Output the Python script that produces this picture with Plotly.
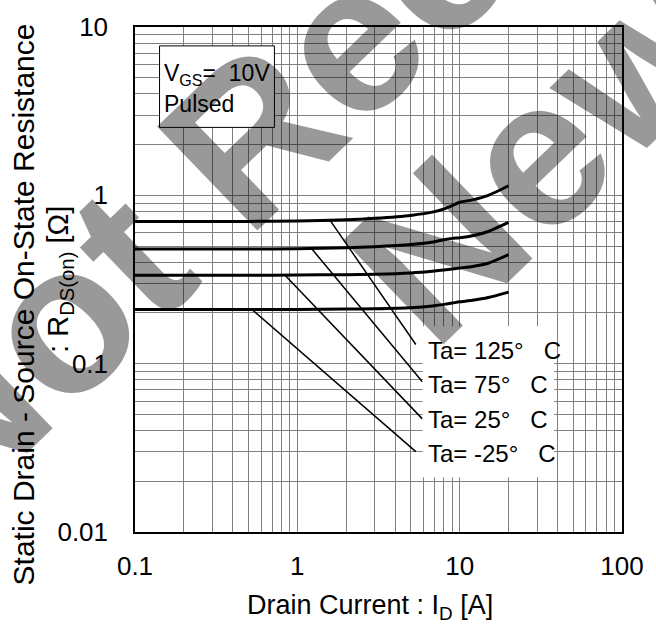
import math
import plotly.graph_objects as go

# ---------------- data ----------------
drain_current = [0.1, 0.2, 0.5, 1, 2, 3, 5, 7, 8, 9, 10, 12, 15, 20]
r_125 = [0.70, 0.70, 0.70, 0.705, 0.715, 0.73, 0.76, 0.80, 0.83, 0.87, 0.91, 0.94, 1.0, 1.14]
r_75 = [0.48, 0.48, 0.48, 0.482, 0.488, 0.495, 0.51, 0.53, 0.545, 0.555, 0.56, 0.575, 0.61, 0.69]
r_25 = [0.335, 0.335, 0.335, 0.336, 0.338, 0.34, 0.346, 0.355, 0.36, 0.365, 0.37, 0.378, 0.395, 0.444]
r_m25 = [0.21, 0.21, 0.21, 0.21, 0.211, 0.212, 0.215, 0.221, 0.225, 0.229, 0.233, 0.238, 0.247, 0.266]
series_names = ["Ta= 125°", "Ta= 75°", "Ta= 25°", "Ta= -25°"]
series_values = [r_125, r_75, r_25, r_m25]

# leader lines: (x_on_curve, y_on_curve) -> (x_end, y_end)
leader_start_x = [1.60, 1.23, 0.84, 0.525]
leader_start_y = [0.705, 0.48, 0.335, 0.21]
leader_end_x = [5.37, 5.89, 5.89, 5.37]
leader_end_y = [0.13, 0.078, 0.047, 0.030]

x_major = [0.1, 1, 10, 100]
y_major = [0.01, 0.1, 1, 10]
x_tick_labels = ["0.1", "1", "10", "100"]
y_tick_labels = ["0.01", "0.1", "1", "10"]
minor_digits = [2, 3, 4, 5, 6, 7, 8, 9]

# ---------------- layout geometry ----------------
W, H = 656, 626
L, R, T, B = 135, 25, 24, 94
PW, PH = W - L - R, H - T - B
FONT = "Liberation Sans, Arial, sans-serif"


def px(x):
    return (x - L) / PW


def py(y):
    return (H - B - y) / PH


x_minor = [d * k for d in x_major[:-1] for k in minor_digits]
y_minor = [d * k for d in y_major[:-1] for k in minor_digits]

fig = go.Figure()
for name, vals in zip(series_names, series_values):
    fig.add_trace(go.Scatter(x=drain_current, y=vals, mode="lines", name=name,
                             line=dict(color="black", width=3, shape="spline", smoothing=0.6),
                             showlegend=False, hoverinfo="skip"))
for x0, y0, x1, y1 in zip(leader_start_x, leader_start_y, leader_end_x, leader_end_y):
    fig.add_trace(go.Scatter(x=[x0, x1], y=[y0, y1], mode="lines",
                             line=dict(color="black", width=1.5),
                             showlegend=False, hoverinfo="skip"))

GRID = "#808080"
axis_common = dict(type="log", showgrid=True, gridcolor=GRID, gridwidth=1,
                   showline=True, linecolor="black", linewidth=1.5, mirror=True,
                   ticks="", zeroline=False, tickmode="array",
                   tickfont=dict(family=FONT, size=26, color="black"))
fig.update_xaxes(range=[-1, 2], tickvals=x_major, ticktext=x_tick_labels, ticklabelstandoff=10,
                 minor=dict(tickmode="array", tickvals=x_minor, showgrid=True, gridcolor=GRID,
                            gridwidth=1, ticks=""),
                 **axis_common)
fig.update_yaxes(range=[-2, 1], tickvals=y_major, ticktext=y_tick_labels, ticklabelstandoff=20,
                 minor=dict(tickmode="array", tickvals=y_minor, showgrid=True, gridcolor=GRID,
                            gridwidth=1, ticks=""),
                 **axis_common)

shapes = [
    dict(type="rect", xref="paper", yref="paper", x0=px(160), x1=px(277), y0=py(125), y1=py(43),
         line=dict(color="black", width=1), fillcolor="white", layer="above"),
    dict(type="rect", xref="paper", yref="paper", x0=px(428), x1=px(562), y0=py(477), y1=py(325),
         line=dict(width=0), fillcolor="white", layer="above"),
]

ann = []
# VGS box text
ann.append(dict(xref="paper", yref="paper", x=px(162), y=py(72), xanchor="left", yanchor="middle",
                text="V<sub>GS</sub>=\u00a0 10V", showarrow=False,
                font=dict(family=FONT, size=23, color="black")))
ann.append(dict(xref="paper", yref="paper", x=px(162), y=py(101), xanchor="left", yanchor="middle",
                text="Pulsed", showarrow=False, font=dict(family=FONT, size=23, color="black")))
# Ta labels
for name, yy in zip(series_names, [349, 384, 419, 453]):
    ann.append(dict(xref="paper", yref="paper", x=px(431), y=py(yy), xanchor="left", yanchor="middle",
                    text=name + "\u00a0\u00a0\u00a0C", showarrow=False,
                    font=dict(family=FONT, size=24, color="black")))
# axis titles
ann.append(dict(xref="paper", yref="paper", x=px(374), y=py(607), xanchor="center", yanchor="middle",
                text="Drain Current : I<sub>D</sub> [A]", showarrow=False,
                font=dict(family=FONT, size=27, color="black")))
ann.append(dict(xref="paper", yref="paper", x=px(21), y=py(303), xanchor="center", yanchor="middle",
                text="Static Drain - Source On-State Resistance",
                textangle=-90, showarrow=False,
                font=dict(family=FONT, size=30, color="black")))
ann.append(dict(xref="paper", yref="paper", x=px(58), y=py(278), xanchor="center", yanchor="middle",
                text=": R<sub>DS(on)</sub> [Ω]",
                textangle=-90, showarrow=False,
                font=dict(family=FONT, size=29, color="black")))

# watermark (two parallel lines of big translucent bold text)
WM_ANGLE = 44
WM_SIZE = 210
wm_lines = ["Not Recommended for", "New Designs"]
wm_half_em = [5.3615, 3.112]        # half text width in em (Arial Bold metrics)
wm_ref_em = [2.305, 1.0]            # em offset of a reference letter centre ("R", "e")
wm_ref_px = [(262, 130), (548, 152)]  # where that reference letter is aimed in the picture
for txt, half, off, (fx, fy) in zip(wm_lines, wm_half_em, wm_ref_em, wm_ref_px):
    d = (half - off) * WM_SIZE
    a = math.radians(WM_ANGLE)
    cx, cy = fx + d * math.cos(a), fy - d * math.sin(a)
    ann.append(dict(xref="paper", yref="paper", x=px(cx), y=py(cy), xanchor="center", yanchor="middle",
                    text=txt, textangle=-WM_ANGLE, showarrow=False,
                    font=dict(family=FONT, size=WM_SIZE, color="rgba(0,0,0,0.4)", weight="bold")))

fig.update_layout(width=W, height=H, margin=dict(l=L, r=R, t=T, b=B),
                  paper_bgcolor="white", plot_bgcolor="white",
                  shapes=shapes, annotations=ann, showlegend=False)
fig.write_html("out.html")
